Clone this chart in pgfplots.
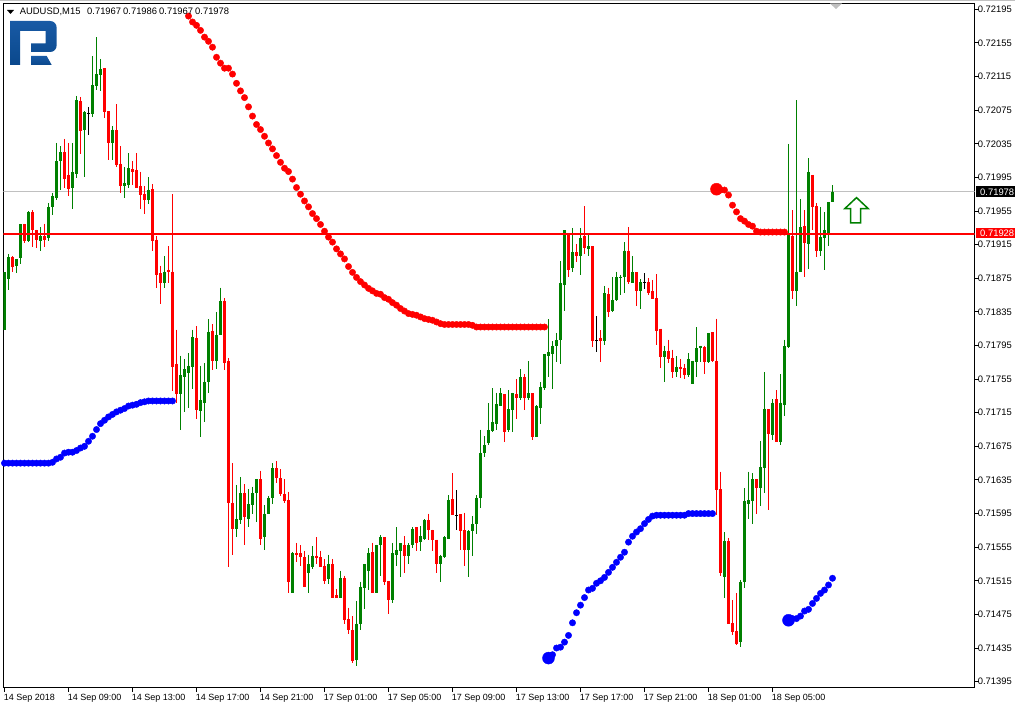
\documentclass[border=0pt]{standalone}
\usepackage{fontspec}
\setmainfont{Liberation Sans}
\usepackage{pgfplots}
\usepackage{pgfplotstable}
\pgfplotsset{compat=1.18}

\definecolor{mtgreen}{RGB}{0,128,0}
\definecolor{mtred}{RGB}{255,0,0}
\definecolor{mtblue}{RGB}{0,0,255}
\definecolor{mtgrey}{RGB}{192,192,192}
\definecolor{logotop}{RGB}{24,90,165}
\definecolor{logobot}{RGB}{10,72,140}

% candles: bar number, high, top of body, bottom of body, low
\pgfplotstableread{
i hi top bot lo
0 0.71882 0.71882 0.71814 0.71813
1 0.71904 0.71900 0.71874 0.71861
3 0.71898 0.71898 0.71890 0.71881
4 0.71940 0.71939 0.71899 0.71892
6 0.71955 0.71954 0.71919 0.71918
9 0.71936 0.71925 0.71919 0.71908
11 0.71964 0.71960 0.71923 0.71919
12 0.71977 0.71973 0.71960 0.71950
13 0.72036 0.72014 0.71971 0.71968
14 0.72032 0.72025 0.72014 0.71980
17 0.72036 0.72001 0.71982 0.71958
18 0.72092 0.72087 0.71999 0.71994
20 0.72074 0.72073 0.72052 0.71996
22 0.72139 0.72105 0.72070 0.72067
23 0.72162 0.72118 0.72104 0.72099
24 0.72136 0.72124 0.72117 0.72098
27 0.72056 0.72052 0.72036 0.72016
30 0.72007 0.71988 0.71985 0.71971
31 0.72024 0.72006 0.71986 0.71982
36 0.71995 0.71980 0.71968 0.71963
40 0.71901 0.71883 0.71869 0.71863
44 0.71783 0.71760 0.71737 0.71694
45 0.71779 0.71767 0.71758 0.71716
46 0.71786 0.71771 0.71762 0.71721
47 0.71814 0.71805 0.71770 0.71743
49 0.71771 0.71730 0.71717 0.71686
50 0.71774 0.71752 0.71727 0.71704
51 0.71826 0.71811 0.71751 0.71739
53 0.71835 0.71808 0.71777 0.71767
54 0.71864 0.71848 0.71808 0.71807
58 0.71629 0.71588 0.71577 0.71567
59 0.71638 0.71619 0.71587 0.71583
61 0.71624 0.71606 0.71589 0.71579
62 0.71627 0.71619 0.71605 0.71594
63 0.71636 0.71636 0.71619 0.71585
65 0.71605 0.71595 0.71567 0.71552
66 0.71616 0.71614 0.71594 0.71594
67 0.71655 0.71649 0.71613 0.71606
72 0.71549 0.71548 0.71501 0.71501
76 0.71546 0.71535 0.71524 0.71500
77 0.71556 0.71545 0.71532 0.71529
81 0.71546 0.71535 0.71517 0.71511
84 0.71527 0.71518 0.71495 0.71495
88 0.71491 0.71464 0.71421 0.71413
89 0.71514 0.71508 0.71463 0.71457
90 0.71535 0.71535 0.71507 0.71482
91 0.71554 0.71548 0.71527 0.71504
93 0.71558 0.71557 0.71501 0.71501
94 0.71569 0.71567 0.71557 0.71521
97 0.71560 0.71548 0.71492 0.71488
98 0.71579 0.71552 0.71546 0.71533
99 0.71560 0.71560 0.71550 0.71520
101 0.71560 0.71557 0.71544 0.71535
102 0.71579 0.71577 0.71557 0.71554
104 0.71580 0.71568 0.71561 0.71551
105 0.71588 0.71587 0.71565 0.71563
109 0.71546 0.71545 0.71535 0.71514
110 0.71568 0.71567 0.71543 0.71542
111 0.71617 0.71611 0.71565 0.71565
116 0.71575 0.71574 0.71552 0.71520
117 0.71592 0.71583 0.71574 0.71544
118 0.71617 0.71614 0.71582 0.71571
119 0.71695 0.71667 0.71614 0.71602
120 0.71687 0.71677 0.71667 0.71662
121 0.71726 0.71694 0.71679 0.71676
122 0.71744 0.71704 0.71693 0.71692
123 0.71739 0.71725 0.71702 0.71695
124 0.71744 0.71738 0.71723 0.71723
126 0.71742 0.71719 0.71694 0.71692
127 0.71739 0.71738 0.71718 0.71692
129 0.71767 0.71757 0.71732 0.71730
131 0.71776 0.71738 0.71732 0.71730
133 0.71724 0.71723 0.71686 0.71686
134 0.71751 0.71746 0.71721 0.71702
135 0.71785 0.71785 0.71745 0.71742
136 0.71826 0.71787 0.71782 0.71758
137 0.71800 0.71795 0.71785 0.71743
138 0.71810 0.71801 0.71794 0.71775
139 0.71895 0.71869 0.71801 0.71773
140 0.71932 0.71932 0.71867 0.71836
142 0.71935 0.71906 0.71887 0.71883
144 0.71935 0.71923 0.71901 0.71879
146 0.71927 0.71913 0.71910 0.71901
150 0.71866 0.71857 0.71800 0.71796
152 0.71876 0.71849 0.71836 0.71835
153 0.71883 0.71876 0.71849 0.71848
154 0.71879 0.71877 0.71875 0.71855
155 0.71918 0.71908 0.71876 0.71857
157 0.71901 0.71882 0.71869 0.71869
159 0.71874 0.71870 0.71860 0.71839
165 0.71795 0.71789 0.71781 0.71751
168 0.71782 0.71770 0.71764 0.71758
171 0.71786 0.71779 0.71760 0.71758
172 0.71777 0.71777 0.71749 0.71749
173 0.71817 0.71792 0.71775 0.71758
174 0.71795 0.71795 0.71792 0.71775
176 0.71810 0.71810 0.71775 0.71774
180 0.71573 0.71562 0.71520 0.71494
184 0.71516 0.71514 0.71442 0.71436
185 0.71625 0.71610 0.71513 0.71507
186 0.71645 0.71611 0.71606 0.71588
187 0.71643 0.71636 0.71610 0.71582
189 0.71681 0.71650 0.71626 0.71604
190 0.71763 0.71720 0.71649 0.71619
192 0.71731 0.71727 0.71689 0.71683
194 0.71761 0.71727 0.71680 0.71676
195 0.71802 0.71794 0.71724 0.71711
196 0.72035 0.71926 0.71793 0.71792
198 0.72087 0.71883 0.71860 0.71842
199 0.71969 0.71936 0.71882 0.71882
201 0.72018 0.72001 0.71916 0.71886
204 0.71960 0.71924 0.71907 0.71901
205 0.71954 0.71932 0.71923 0.71885
206 0.71966 0.71966 0.71926 0.71914
207 0.71986 0.71978 0.71966 0.71966
}\greenbars

\pgfplotstableread{
i hi top bot lo
2 0.71901 0.71900 0.71889 0.71882
5 0.71940 0.71939 0.71919 0.71917
7 0.71956 0.71954 0.71932 0.71912
8 0.71933 0.71932 0.71920 0.71911
10 0.71940 0.71925 0.71921 0.71912
15 0.72041 0.72025 0.71993 0.71982
16 0.72036 0.71998 0.71981 0.71973
19 0.72091 0.72086 0.72050 0.72023
25 0.72125 0.72125 0.72073 0.72066
26 0.72074 0.72074 0.72036 0.72016
28 0.72082 0.72051 0.72010 0.72007
29 0.72032 0.72011 0.71985 0.71977
32 0.72014 0.72005 0.72002 0.71986
33 0.72024 0.72004 0.71982 0.71982
34 0.72002 0.71985 0.71974 0.71958
35 0.71985 0.71975 0.71968 0.71952
37 0.71987 0.71981 0.71919 0.71908
38 0.71925 0.71921 0.71879 0.71863
39 0.71890 0.71881 0.71869 0.71844
41 0.71913 0.71885 0.71882 0.71869
42 0.71975 0.71883 0.71770 0.71741
43 0.71814 0.71773 0.71737 0.71726
48 0.71818 0.71804 0.71718 0.71707
52 0.71820 0.71812 0.71777 0.71766
55 0.71851 0.71848 0.71774 0.71766
56 0.71780 0.71776 0.71607 0.71532
57 0.71655 0.71608 0.71577 0.71546
60 0.71630 0.71619 0.71591 0.71558
64 0.71646 0.71636 0.71565 0.71557
68 0.71657 0.71649 0.71637 0.71631
69 0.71648 0.71637 0.71618 0.71616
70 0.71636 0.71618 0.71610 0.71607
71 0.71621 0.71611 0.71514 0.71501
73 0.71560 0.71548 0.71546 0.71537
74 0.71557 0.71548 0.71543 0.71533
75 0.71551 0.71543 0.71508 0.71508
78 0.71567 0.71545 0.71542 0.71535
79 0.71551 0.71543 0.71531 0.71531
80 0.71541 0.71533 0.71515 0.71511
82 0.71541 0.71535 0.71495 0.71495
83 0.71505 0.71498 0.71495 0.71495
85 0.71521 0.71518 0.71468 0.71464
86 0.71483 0.71469 0.71456 0.71452
87 0.71473 0.71456 0.71420 0.71417
92 0.71560 0.71549 0.71501 0.71500
95 0.71567 0.71567 0.71514 0.71510
96 0.71515 0.71515 0.71492 0.71476
100 0.71568 0.71558 0.71544 0.71524
103 0.71579 0.71579 0.71560 0.71550
106 0.71595 0.71587 0.71575 0.71564
107 0.71576 0.71575 0.71563 0.71550
108 0.71564 0.71564 0.71535 0.71524
112 0.71643 0.71612 0.71593 0.71593
114 0.71594 0.71594 0.71574 0.71552
115 0.71596 0.71575 0.71552 0.71533
125 0.71737 0.71737 0.71692 0.71680
128 0.71755 0.71737 0.71732 0.71708
130 0.71761 0.71757 0.71732 0.71718
132 0.71738 0.71738 0.71686 0.71683
141 0.71929 0.71929 0.71885 0.71877
143 0.71916 0.71906 0.71902 0.71894
145 0.71961 0.71925 0.71911 0.71904
147 0.71913 0.71913 0.71800 0.71793
149 0.71813 0.71804 0.71800 0.71775
151 0.71864 0.71856 0.71835 0.71829
156 0.71936 0.71908 0.71871 0.71868
158 0.71882 0.71882 0.71860 0.71842
161 0.71875 0.71870 0.71858 0.71855
162 0.71873 0.71860 0.71850 0.71850
163 0.71880 0.71851 0.71812 0.71795
164 0.71815 0.71815 0.71781 0.71768
166 0.71802 0.71789 0.71779 0.71774
167 0.71790 0.71780 0.71764 0.71756
169 0.71779 0.71770 0.71767 0.71756
170 0.71773 0.71768 0.71760 0.71755
175 0.71795 0.71793 0.71775 0.71761
177 0.71811 0.71811 0.71776 0.71775
178 0.71827 0.71776 0.71623 0.71593
179 0.71645 0.71624 0.71524 0.71521
181 0.71566 0.71562 0.71464 0.71464
182 0.71492 0.71465 0.71454 0.71451
183 0.71500 0.71455 0.71440 0.71438
188 0.71636 0.71636 0.71626 0.71594
191 0.71719 0.71719 0.71690 0.71599
193 0.71742 0.71731 0.71680 0.71680
197 0.71956 0.71925 0.71860 0.71850
200 0.71956 0.71937 0.71917 0.71876
202 0.71998 0.71998 0.71960 0.71932
203 0.71964 0.71961 0.71907 0.71900
}\redbars

\pgfplotstableread{
i hi top bot lo
21 0.72079 0.72071 0.72071 0.72046
113 0.71623 0.71593 0.71593 0.71576
148 0.71830 0.71801 0.71801 0.71787
160 0.71881 0.71870 0.71870 0.71862
}\blackbars

% indicator dots
\pgfplotstableread{
i p
46 0.72187
47 0.72180
48 0.72176
49 0.72170
50 0.72162
51 0.72157
52 0.72150
53 0.72138
54 0.72131
55 0.72125
56 0.72125
57 0.72118
58 0.72107
59 0.72098
60 0.72090
61 0.72079
62 0.72068
63 0.72058
64 0.72052
65 0.72044
66 0.72036
67 0.72029
68 0.72021
69 0.72013
70 0.72006
71 0.72002
72 0.71993
73 0.71983
74 0.71975
75 0.71967
76 0.71960
77 0.71952
78 0.71946
79 0.71939
80 0.71931
81 0.71924
82 0.71918
83 0.71910
84 0.71904
85 0.71898
86 0.71889
87 0.71882
88 0.71876
89 0.71871
90 0.71867
91 0.71863
92 0.71860
93 0.71857
94 0.71856
95 0.71852
96 0.71850
97 0.71846
98 0.71843
99 0.71839
100 0.71836
101 0.71833
102 0.71832
103 0.71831
104 0.71829
105 0.71827
106 0.71826
107 0.71825
108 0.71823
109 0.71821
110 0.71820
111 0.71820
112 0.71820
113 0.71820
114 0.71820
115 0.71820
116 0.71820
117 0.71819
118 0.71817
119 0.71817
120 0.71817
121 0.71817
122 0.71817
123 0.71817
124 0.71817
125 0.71817
126 0.71817
127 0.71817
128 0.71817
129 0.71817
130 0.71817
131 0.71817
132 0.71817
133 0.71817
134 0.71817
135 0.71817
179 0.71980
180 0.71980
181 0.71974
182 0.71962
183 0.71954
184 0.71946
185 0.71943
186 0.71939
187 0.71937
188 0.71931
189 0.71930
190 0.71930
191 0.71930
192 0.71930
193 0.71930
194 0.71930
195 0.71930
}\reddots

\pgfplotstableread{
i p
0 0.71655
1 0.71655
2 0.71655
3 0.71655
4 0.71655
5 0.71655
6 0.71655
7 0.71655
8 0.71655
9 0.71655
10 0.71655
11 0.71655
12 0.71656
13 0.71660
14 0.71662
15 0.71667
16 0.71668
17 0.71668
18 0.71670
19 0.71673
20 0.71675
21 0.71681
22 0.71687
23 0.71695
24 0.71702
25 0.71706
26 0.71710
27 0.71713
28 0.71716
29 0.71718
30 0.71720
31 0.71723
32 0.71724
33 0.71725
34 0.71727
35 0.71728
36 0.71729
37 0.71729
38 0.71729
39 0.71729
40 0.71729
41 0.71729
42 0.71729
137 0.71427
138 0.71435
139 0.71436
140 0.71442
141 0.71450
142 0.71465
143 0.71477
144 0.71486
145 0.71495
146 0.71504
147 0.71506
148 0.71512
149 0.71515
150 0.71519
151 0.71525
152 0.71531
153 0.71537
154 0.71543
155 0.71549
156 0.71561
157 0.71568
158 0.71573
159 0.71577
160 0.71583
161 0.71588
162 0.71592
163 0.71593
164 0.71593
165 0.71593
166 0.71593
167 0.71593
168 0.71593
169 0.71593
170 0.71593
171 0.71595
172 0.71595
173 0.71595
174 0.71595
175 0.71595
176 0.71595
177 0.71595
197 0.71470
198 0.71470
199 0.71473
200 0.71479
201 0.71481
202 0.71488
203 0.71494
204 0.71500
205 0.71504
206 0.71510
207 0.71518
}\bluedots

\begin{document}
\begin{tikzpicture}[x=1pt,y=-1pt]
\path[use as bounding box] (0,0) rectangle (1015,706);
\fill[mtgrey] (0,0) rectangle (1015,1.5);

\begin{axis}[
    at={(3.5pt,-687.5pt)}, anchor=south west,
    scale only axis, width=971pt, height=684pt,
    xmin=-0.25, xmax=242.5,
    ymin=0.71388, ymax=0.72202,
    axis line style={black, line width=1pt},
    tick style={black, line width=1pt},
    tick align=outside,
    major tick length=4pt,
    xtick pos=bottom,
    ytick pos=right,
    yticklabel pos=right,
    clip mode=individual,
    font=\fontsize{9pt}{11pt}\selectfont,
    xtick={0,16,32,48,64,80,96,112,128,144,160,176,192},
    xticklabels={14 Sep 2018,14 Sep 09:00,14 Sep 13:00,14 Sep 17:00,14 Sep 21:00,17 Sep 01:00,17 Sep 05:00,17 Sep 09:00,17 Sep 13:00,17 Sep 17:00,17 Sep 21:00,18 Sep 01:00,18 Sep 05:00},
    xticklabel style={anchor=north west, xshift=-4.2pt, yshift=0.5pt},
    ytick={0.71395,0.71435,0.71475,0.71515,0.71555,0.71595,0.71635,0.71675,0.71715,0.71755,0.71795,0.71835,0.71875,0.71915,0.71955,0.71995,0.72035,0.72075,0.72115,0.72155,0.72195},
    yticklabels={0.71395,0.71435,0.71475,0.71515,0.71555,0.71595,0.71635,0.71675,0.71715,0.71755,0.71795,0.71835,0.71875,0.71915,0.71955,0.71995,0.72035,0.72075,0.72115,0.72155,0.72195},
    yticklabel style={anchor=west, xshift=-4.2pt, font=\fontsize{9.4pt}{11pt}\selectfont},
]

% bid line under the candles
\addplot[mtgrey, line width=1pt] coordinates {(-1,0.71978)(243,0.71978)};

% wicks
\addplot[draw=none, no markers, error bars/.cd, y dir=minus, y explicit, error mark=none,
    error bar style={draw=mtgreen, line width=1pt}]
    table[x=i, y=hi, y error minus expr=\thisrow{hi}-\thisrow{lo}] {\greenbars};
\addplot[draw=none, no markers, error bars/.cd, y dir=minus, y explicit, error mark=none,
    error bar style={draw=mtred, line width=1pt}]
    table[x=i, y=hi, y error minus expr=\thisrow{hi}-\thisrow{lo}] {\redbars};
\addplot[draw=none, no markers, error bars/.cd, y dir=minus, y explicit, error mark=none,
    error bar style={draw=black, line width=1pt}]
    table[x=i, y=hi, y error minus expr=\thisrow{hi}-\thisrow{lo}] {\blackbars};

% bodies
\addplot[draw=none, no markers, error bars/.cd, y dir=minus, y explicit, error mark=none,
    error bar style={draw=mtgreen, line width=3.3pt}]
    table[x=i, y=top, y error minus expr=\thisrow{top}-\thisrow{bot}] {\greenbars};
\addplot[draw=none, no markers, error bars/.cd, y dir=minus, y explicit, error mark=none,
    error bar style={draw=mtred, line width=3.3pt}]
    table[x=i, y=top, y error minus expr=\thisrow{top}-\thisrow{bot}] {\redbars};
\addplot[only marks, black, mark=-, mark size=1.5pt, mark options={line width=1pt}]
    table[x=i, y=top] {\blackbars};

% dots
\addplot[only marks, mtred, mark=*, mark size=3.2pt] table[x=i, y=p] {\reddots};
\addplot[only marks, mtblue, mark=*, mark size=3.2pt] table[x=i, y=p] {\bluedots};
\addplot[only marks, mtred, mark=*, mark size=6pt] coordinates {(178,0.71981)};
\addplot[only marks, mtblue, mark=*, mark size=6pt] coordinates {(136,0.71423)(196,0.71468)};

% support level and arrow
\addplot[mtred, line width=2pt] coordinates {(-1,0.71928)(243,0.71928)};
\addplot[mtgreen, fill=white, line width=1.5pt, miter limit=4] coordinates
    {(213,0.71971)(215.9,0.71958)(214.05,0.71958)(214.05,0.71941)(211.55,0.71941)(211.55,0.71958)(210.1,0.71958)} -- cycle;

\end{axis}

% gray shift marker at the top
\fill[mtgrey] (830,3.5) -- (842,3.5) -- (836,9) -- cycle;

% logo
\shade[top color=logotop, bottom color=logobot]
    (10,21) -- (50,21) .. controls (54,21) and (56.7,24) .. (56.7,28) -- (56.7,45)
    .. controls (56.7,49) and (54,52) .. (50,52) -- (31,52) -- (31,43.3) -- (45.7,43.3)
    -- (45.7,31) -- (20,31) -- (20,65) -- (10,65) -- cycle;
\shade[top color=logotop, bottom color=logobot]
    (31,56) -- (46.7,56) -- (51.7,65) -- (31,65) -- cycle;

% header
\fill[black] (7,10) -- (14,10) -- (10.5,14) -- cycle;
\begin{scope}[every node/.style={inner sep=0pt, anchor=base west, font=\fontsize{9.4pt}{11pt}\selectfont}]
\node at (19.7,15) {AUDUSD,M15};
\node at (87,15) {0.71967};
\node at (123,15) {0.71986};
\node at (159,15) {0.71967};
\node at (195,15) {0.71978};
\end{scope}

% price tags
\fill[black] (976,186) rectangle (1015,197);
\node[text=white, inner sep=0pt, anchor=base west, font=\fontsize{9.4pt}{11pt}\selectfont] at (980,195) {0.71978};
\fill[mtred] (976,227.5) rectangle (1015,238);
\node[text=white, inner sep=0pt, anchor=base west, font=\fontsize{9.4pt}{11pt}\selectfont] at (980,236.5) {0.71928};
\end{tikzpicture}
\end{document}
